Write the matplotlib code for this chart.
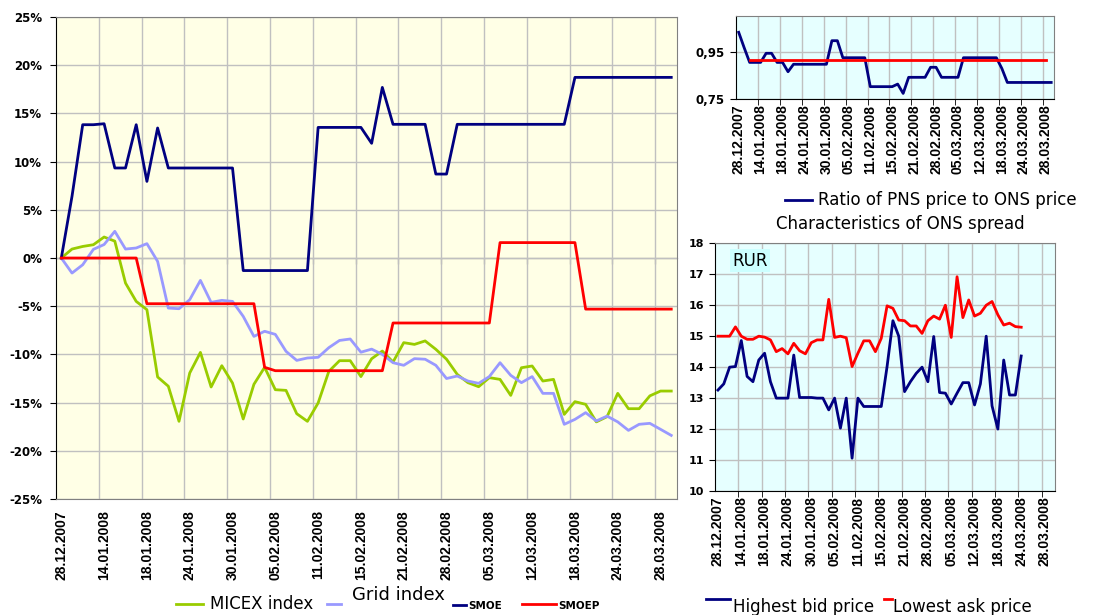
import numpy as np
import matplotlib
matplotlib.use("Agg")
import matplotlib.pyplot as plt
from matplotlib.lines import Line2D

plt.rcParams["font.family"] = ["Liberation Sans", "DejaVu Sans"]

# trading days on the category axis, one label every 4th day
N_DAYS = 58
LABEL_STEP = 4
DATE_LABELS = ["28.12.2007", "14.01.2008", "18.01.2008", "24.01.2008", "30.01.2008",
               "05.02.2008", "11.02.2008", "15.02.2008", "21.02.2008", "28.02.2008",
               "05.03.2008", "12.03.2008", "18.03.2008", "24.03.2008", "28.03.2008"]

# left chart, change since 28.12.2007 in %
micex = [0, 0.93, 1.2, 1.38, 2.18, 1.75, -2.6, -4.5, -5.36, -12.34,
         -13.3, -16.94, -11.93, -9.79, -13.38, -11.17, -12.97, -16.7, -13.1, -11.34,
         -13.66, -13.73, -16.15, -16.94, -15.04, -11.76, -10.65, -10.65, -12.3, -10.45,
         -9.65, -10.79, -8.78, -8.96, -8.6, -9.47, -10.5, -12.07, -12.93, -13.35,
         -12.41, -12.59, -14.25, -11.38, -11.2, -12.76, -12.59, -16.22, -14.9, -15.18,
         -17.0, -16.46, -14.04, -15.63, -15.63, -14.3, -13.8, -13.8]
grid_index = [0, -1.56, -0.7, 0.9, 1.4, 2.77, 0.93, 1.04, 1.49, -0.35,
              -5.19, -5.26, -4.32, -2.32, -4.6, -4.39, -4.5, -6.05, -8.13, -7.6,
              -7.92, -9.68, -10.62, -10.37, -10.3, -9.3, -8.55, -8.4, -9.77, -9.45,
              -10.0, -10.86, -11.13, -10.44, -10.5, -11.13, -12.5, -12.24, -12.76, -13.0,
              -12.3, -10.86, -12.17, -12.93, -12.3, -14.04, -14.04, -17.25, -16.74, -16.04,
              -16.9, -16.4, -17.0, -17.88, -17.25, -17.15, -17.77, -18.4]
smoe = ([0, 6.4, 13.83, 13.83, 13.93, 9.34, 9.34, 13.83, 7.95, 13.49]
        + [9.34] * 7 + [-1.3] * 7 + [13.55] * 5 + [11.9, 17.7]
        + [13.87] * 4 + [8.71, 8.71] + [13.87] * 11 + [18.74] * 10)
smoep = ([0] * 8 + [-4.74] * 11 + [-11.34] + [-11.69] * 11
         + [-6.74] * 10 + [1.6] * 8 + [-5.3] * 9)

# top right chart
ratio = ([1.036, 0.97, 0.907, 0.907, 0.907, 0.946, 0.946, 0.907, 0.907, 0.867]
         + [0.899] * 7 + [1.0, 1.0] + [0.927] * 5 + [0.803] * 5 + [0.814, 0.774]
         + [0.843] * 4 + [0.886, 0.886] + [0.843] * 4 + [0.927] * 7 + [0.881]
         + [0.821] * 9)
ratio_level = 0.918
ratio_level_span = (2, 56)

# bottom right chart, RUR
ask = [15.0, 15.0, 15.0, 15.3, 15.0, 14.9, 14.9, 15.0, 14.97, 14.88,
       14.5, 14.6, 14.43, 14.77, 14.53, 14.43, 14.79, 14.88, 14.88, 16.19,
       14.96, 15.0, 14.95, 14.02, 14.45, 14.85, 14.85, 14.5, 14.93, 15.98,
       15.9, 15.52, 15.5, 15.33, 15.33, 15.09, 15.5, 15.65, 15.55, 16.0,
       14.96, 16.92, 15.6, 16.17, 15.65, 15.74, 16.0, 16.12, 15.69, 15.36,
       15.42, 15.31, 15.29]
bid = [13.26, 13.46, 14.0, 14.02, 14.86, 13.7, 13.53, 14.23, 14.45, 13.53,
       13.0, 13.0, 13.0, 14.39, 13.02, 13.02, 13.02, 13.0, 13.0, 12.62,
       13.0, 12.03, 13.0, 11.06, 13.0, 12.73, 12.73, 12.73, 12.73, 14.02,
       15.5, 15.0, 13.21, 13.53, 13.8, 14.0, 13.53, 14.99, 13.18, 13.16,
       12.81, 13.16, 13.5, 13.5, 12.78, 13.46, 15.0, 12.75, 12.0, 14.23,
       13.1, 13.1, 14.36]

NAVY, RED, GREEN, LILAC = "#000080", "#FF0000", "#99CC00", "#9999FF"
GRIDC, FRAME = "#C0C0C0", "#808080"
LW = 2.0
WIDE = "DejaVu Sans"   # the original texts are wider than Arial

label_pos = np.arange(0, N_DAYS, LABEL_STEP)
bounds = np.arange(-0.5, N_DAYS, LABEL_STEP)


def style(ax, bg, xpad, ypad, ysize=8.5, xticks_on_bottom=True):
    ax.set_facecolor(bg)
    ax.set_xlim(-0.5, N_DAYS - 0.5)
    ax.set_xticks(label_pos)
    ax.set_xticklabels(DATE_LABELS, rotation=90, fontweight="bold", fontsize=10)
    ax.set_xticks(bounds[1:], minor=True)
    ax.grid(True, which="minor", axis="x", color=GRIDC, lw=1)
    ax.grid(True, which="major", axis="y", color=GRIDC, lw=1)
    ax.tick_params(axis="x", which="major", length=0, pad=xpad)
    ax.tick_params(axis="x", which="minor", length=4 if xticks_on_bottom else 0,
                   direction="out", color="black")
    ax.tick_params(axis="y", length=4, direction="out", pad=ypad)
    for lab in ax.get_yticklabels():
        lab.set_fontweight("bold")
        lab.set_fontfamily(WIDE)
        lab.set_fontsize(ysize)
    for s in ("top", "right"):
        ax.spines[s].set_color(FRAME)
    ax.spines["left"].set_color("black")
    ax.spines["bottom"].set_color("black" if xticks_on_bottom else FRAME)
    ax.set_axisbelow(True)


fig = plt.figure(figsize=(10.95, 6.15), dpi=100)

# --- left: indices and shares ---
ax = fig.add_axes([0.0511, 0.1886, 0.5668, 0.7837])
x = np.arange(N_DAYS)
ax.plot(x, micex, color=GREEN, lw=LW)
ax.plot(x, grid_index, color=LILAC, lw=LW)
ax.plot(x, smoe, color=NAVY, lw=LW)
ax.plot(x, smoep, color=RED, lw=LW)
ax.set_ylim(-25, 25)
ax.set_yticks(np.arange(-25, 26, 5))
ax.set_yticklabels([f"{v}%" for v in range(-25, 26, 5)])
style(ax, "#FFFFE6", xpad=8, ypad=6, xticks_on_bottom=False)
zero_axis = ax.secondary_xaxis(0.5)
zero_axis.set_xticks(bounds[1:])
zero_axis.tick_params(axis="x", direction="in", length=4, labeltop=False,
                      labelbottom=False, color="black")
for s in zero_axis.spines.values():
    s.set_color("black")

# --- top right: PNS / ONS ratio ---
ax2 = fig.add_axes([0.6721, 0.839, 0.2904, 0.1354])
ax2.plot(x, ratio, color=NAVY, lw=LW)
lx = np.arange(ratio_level_span[0], ratio_level_span[1] + 1)
ax2.plot(lx, np.full(len(lx), ratio_level), color=RED, lw=LW)
ax2.set_ylim(0.75, 1.107)
ax2.set_yticks([0.75, 0.95])
ax2.set_yticklabels(["0,75", "0,95"])
style(ax2, "#E6FFFF", xpad=4, ypad=4)

# --- bottom right: ONS spread ---
ax3 = fig.add_axes([0.653, 0.2016, 0.3105, 0.4028])
xb = np.arange(len(bid))
ax3.plot(xb, ask, color=RED, lw=LW)
ax3.plot(xb, bid, color=NAVY, lw=LW)
ax3.set_ylim(10, 18)
ax3.set_yticks(np.arange(10, 19, 1))
style(ax3, "#E6FFFF", xpad=4, ypad=4, ysize=8)
ax3.set_xlim(-0.5, 57.8)
ax3.text(0.05, 0.965, "RUR", transform=ax3.transAxes, fontsize=12, va="top",
         family=WIDE, bbox=dict(boxstyle="square,pad=0.15", fc="#CCFFFF", ec="none"))

fig.text(0.822, 0.627, "Characteristics of ONS spread", fontsize=12, ha="center",
         va="baseline", family=WIDE)

# --- legends drawn by hand to keep the original layout ---
def key(x0, x1, y, color):
    fig.add_artist(Line2D([x0 / 1095, x1 / 1095], [1 - y / 615, 1 - y / 615],
                          color=color, lw=LW))


def label(xp, yp, s, size=12, bold=False):
    fig.text(xp / 1095, 1 - yp / 615, s, fontsize=size, va="baseline", family=WIDE,
             fontweight="bold" if bold else "normal")


key(785, 812, 200, NAVY)
label(818, 205, "Ratio of PNS price to ONS price")

key(176, 203, 604, GREEN)
label(210, 609, "MICEX index")
key(327, 341, 604, LILAC)
label(352, 600, "Grid index", size=13)
key(453, 466, 605, NAVY)
label(468, 609, "SMOE", size=7.5, bold=True)
key(522, 556, 604, RED)
label(558, 609, "SMOEP", size=7.5, bold=True)

key(706, 730, 599, NAVY)
label(733, 612, "Highest bid price")
key(884, 892, 599, RED)
label(893, 612, "Lowest ask price")

fig.savefig("out.png", dpi=100)
